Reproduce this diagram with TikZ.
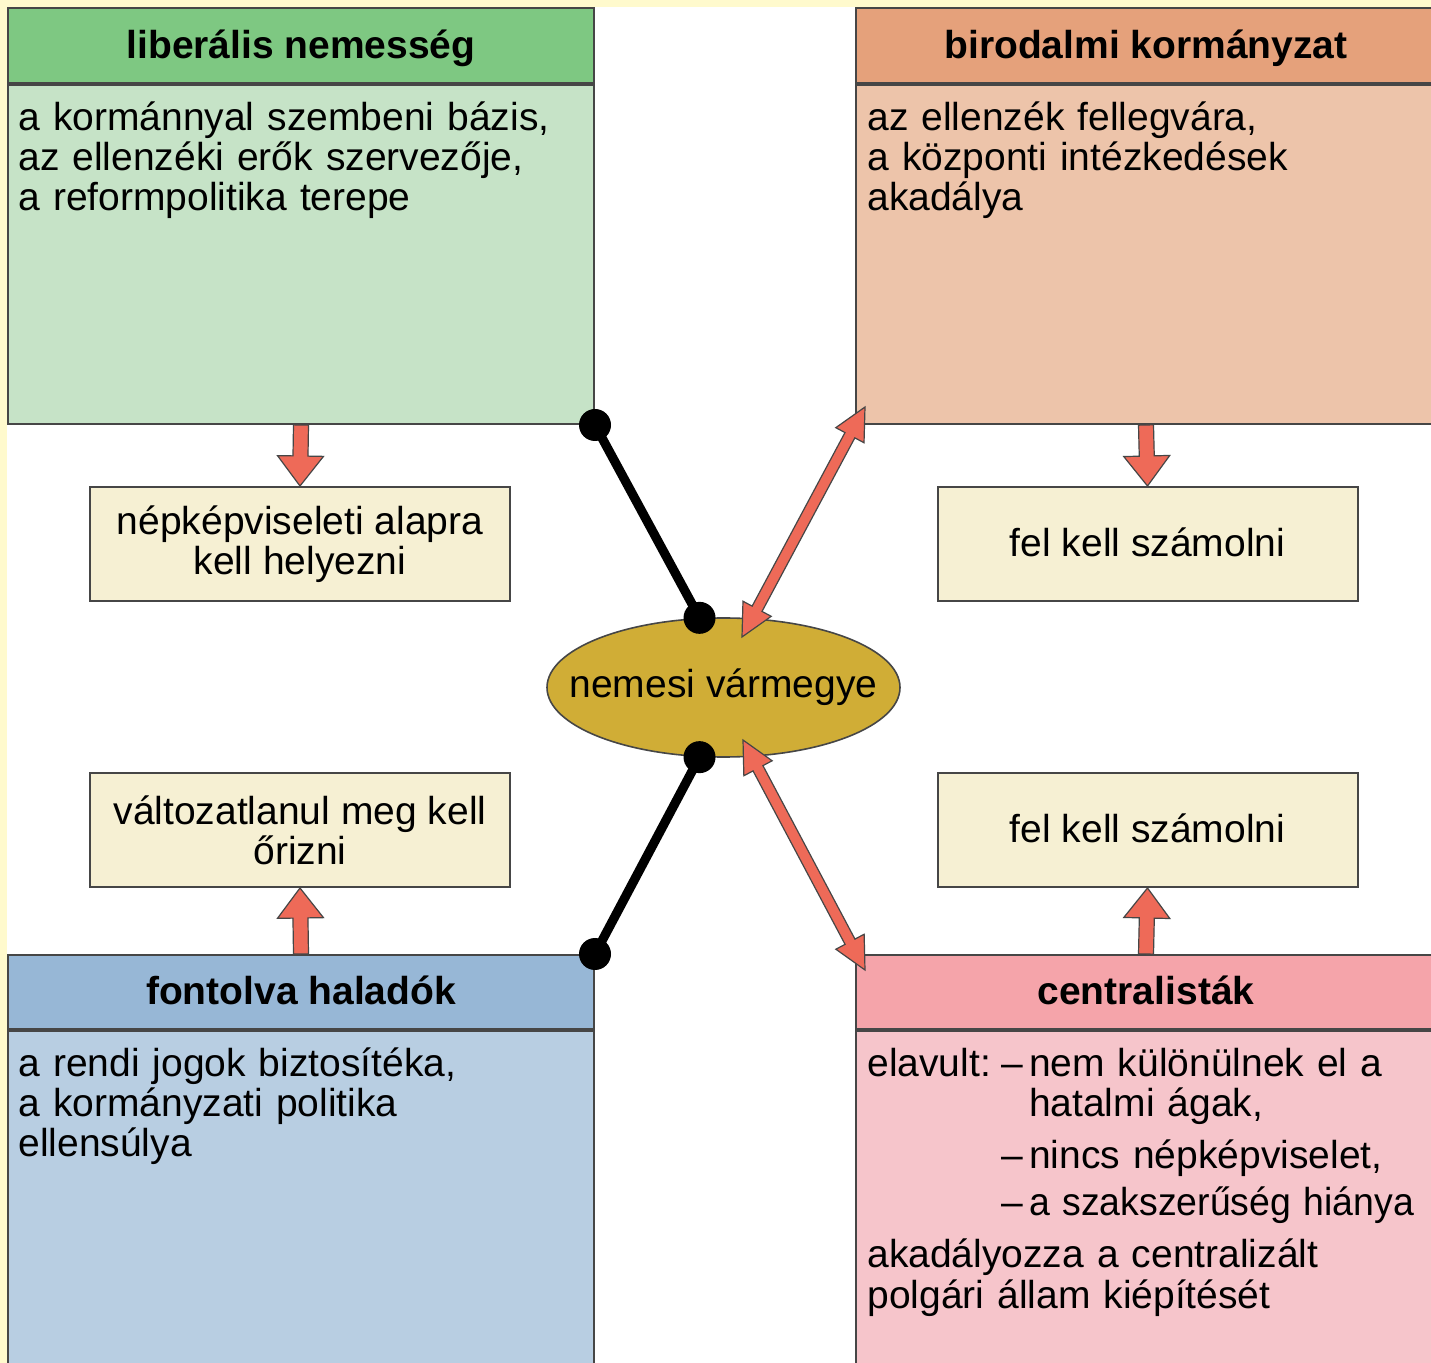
\documentclass[tikz,border=0pt]{standalone}
\usepackage{fontspec}
\setmainfont{Liberation Sans}
\usetikzlibrary{positioning,shapes.geometric,calc}

\definecolor{pagebg}{RGB}{255,250,205}
\definecolor{boxline}{RGB}{70,70,70}
\definecolor{greenhead}{RGB}{126,200,130}
\definecolor{greenbody}{RGB}{198,227,199}
\definecolor{orangehead}{RGB}{229,161,123}
\definecolor{orangebody}{RGB}{237,196,170}
\definecolor{bluehead}{RGB}{151,183,214}
\definecolor{bluebody}{RGB}{184,206,226}
\definecolor{pinkhead}{RGB}{245,164,170}
\definecolor{pinkbody}{RGB}{246,197,203}
\definecolor{cream}{RGB}{246,240,211}
\definecolor{gold}{RGB}{208,173,54}
\definecolor{arrowred}{RGB}{238,106,88}

\newcommand\diagfont{\fontsize{19.5}{20}\selectfont\lineskiplimit=-20pt\relax}

% block arrow, tail -> tip
\newcommand\blockarrow[2]{%
  \filldraw[arrowbody] ($(#1)!3.75pt!90:(#2)$) -- ($(#2)!15pt!(#1)!3.75pt!-90:(#1)$)
    -- ($(#2)!15pt!(#1)!11.5pt!-90:(#1)$) -- (#2)
    -- ($(#2)!15pt!(#1)!11.5pt!90:(#1)$) -- ($(#2)!15pt!(#1)!3.75pt!90:(#1)$)
    -- ($(#1)!3.75pt!-90:(#2)$) -- cycle;}

% block arrow with two heads
\newcommand\twowayarrow[2]{%
  \filldraw[arrowbody] (#1)
    -- ($(#1)!16pt!(#2)!8pt!90:(#2)$) -- ($(#1)!16pt!(#2)!2.8pt!90:(#2)$)
    -- ($(#2)!16pt!(#1)!2.8pt!-90:(#1)$) -- ($(#2)!16pt!(#1)!8pt!-90:(#1)$)
    -- (#2)
    -- ($(#2)!16pt!(#1)!8pt!90:(#1)$) -- ($(#2)!16pt!(#1)!2.8pt!90:(#1)$)
    -- ($(#1)!16pt!(#2)!2.8pt!-90:(#2)$) -- ($(#1)!16pt!(#2)!8pt!-90:(#2)$)
    -- cycle;}

\begin{document}
\begin{tikzpicture}[x=0.5pt,y=-0.5pt,
    box/.style={draw=boxline,line width=1pt,inner sep=0pt},
    oneline/.style={text height=17pt,text depth=4pt},
    headbox/.style={box,oneline,minimum height=37.5pt,font=\diagfont\bfseries},
    bodybox/.style={box,minimum height=169.5pt},
    bodytext/.style={anchor=base west,inner sep=0pt,text width=285pt,align=left,font=\diagfont},
    notebox/.style={box,fill=cream,minimum width=210pt,minimum height=57pt,align=center,font=\diagfont},
    blackline/.style={line width=4.6pt},
    arrowbody/.style={fill=arrowred,draw=boxline,line width=0.6pt}]
  \useasboundingbox (0,0) rectangle (1431,1363);
  \fill[pagebg] (0,0) rectangle (1431,1363);
  \fill[white] (7,7) rectangle (1431,1363);

  % upper left
  \node[headbox,fill=greenhead,minimum width=293pt,anchor=north west] (libhead) at (7,7) {liberális nemesség};
  \node[bodybox,fill=greenbody,minimum width=293pt,below=0pt of libhead] (libbody) {};
  \node[bodytext] (libtext) at (18,131) {a kormánnyal szembeni bázis,\\az ellenzéki erők szervezője,\\a reformpolitika terepe};

  % upper right
  \node[headbox,fill=orangehead,minimum width=290pt,anchor=north west] (kormhead) at (855,7) {birodalmi kormányzat};
  \node[bodybox,fill=orangebody,minimum width=290pt,below=0pt of kormhead] (kormbody) {};
  \node[bodytext] (kormtext) at (867,131) {az ellenzék fellegvára,\\a központi intézkedések\\akadálya};

  % lower left
  \node[headbox,fill=bluehead,minimum width=293pt,minimum height=37pt,text depth=5pt,anchor=north west] (fonhead) at (7,954) {fontolva haladók};
  \node[bodybox,fill=bluebody,minimum width=293pt,minimum height=170pt,below=0pt of fonhead] (fonbody) {};
  \node[bodytext] (fontext) at (18,1076) {a rendi jogok biztosítéka,\\a kormányzati politika\\ellensúlya};

  % lower right
  \node[headbox,fill=pinkhead,minimum width=290pt,minimum height=37pt,text depth=5pt,anchor=north west] (centhead) at (855,954) {centralisták};
  \node[bodybox,fill=pinkbody,minimum width=290pt,minimum height=170pt,below=0pt of centhead] (centbody) {};
  \node[bodytext] (centtext) at (867,1076) {\makebox[67pt][l]{elavult:}–\kern3pt nem különülnek el a\\
    \hspace*{80.8pt}hatalmi ágak,\\[6pt]
    \hspace*{67pt}–\kern3pt nincs népképviselet,\\[4pt]
    \hspace*{67pt}–\kern3pt \scalebox{0.96}[1]{a szakszerűség hiánya}\\[6pt]
    akadályozza a centralizált\\polgári állam kiépítését};

  % notes
  \node[notebox] (libnote) at (300,544) {népképviseleti alapra\\kell helyezni};
  \node[notebox,oneline] (kormnote) at (1147.5,544) {fel kell számolni};
  \node[notebox] (fonnote) at (300,830) {változatlanul meg kell\\őrizni};
  \node[notebox,oneline] (centnote) at (1147.5,830) {fel kell számolni};

  \blockarrow{libbody.south}{libnote.north}
  \blockarrow{kormbody.south}{kormnote.north}
  \blockarrow{fonhead.north}{fonnote.south}
  \blockarrow{centhead.north}{centnote.south}

  % centre
  \node[ellipse,draw=boxline,line width=0.8pt,fill=gold,minimum width=176.5pt,minimum height=69.5pt,
    inner sep=0pt,font=\diagfont] (varm) at (723.5,687.5) {\makebox[0pt]{nemesi vármegye}};

  \foreach \a/\b in {libbody.south east/varm.109, fonhead.north east/varm.251} {
    \draw[blackline] (\a) -- (\b);
    \fill (\a) circle[radius=8pt] (\b) circle[radius=8pt];
  }

  \coordinate (kormtip) at ([shift={(10,-18)}]kormbody.south west);
  \coordinate (vartop) at ([shift={(18.5,-50.5)}]varm.center);
  \coordinate (varbot) at ([shift={(19.5,52.5)}]varm.center);
  \coordinate (centtip) at ([shift={(10,16)}]centhead.north west);
  \twowayarrow{kormtip}{vartop}
  \twowayarrow{varbot}{centtip}
\end{tikzpicture}
\end{document}
